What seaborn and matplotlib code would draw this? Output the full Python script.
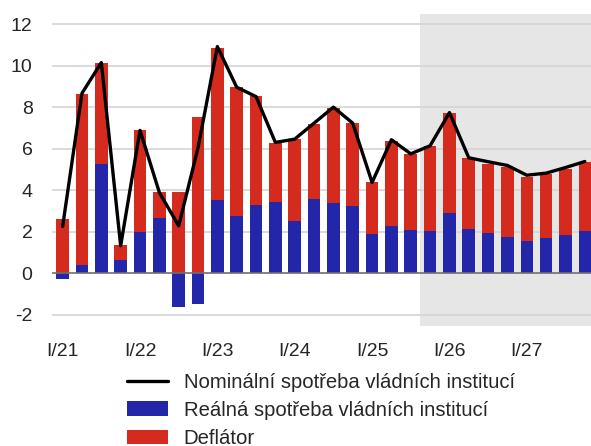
import numpy as np
import pandas as pd
import matplotlib
matplotlib.use("Agg")
import matplotlib.pyplot as plt
import seaborn as sns
from matplotlib.lines import Line2D
from matplotlib.patches import Patch

# Quarters 2021 Q1 .. 2027 Q4
quarters = [f"{q}/{y}" for y in range(21, 28) for q in ["I", "II", "III", "IV"]]

# Real government consumption (blue)
real = [-0.30, 0.37, 5.24, 0.64, 1.98, 2.68, -1.61, -1.51,
        3.53, 2.76, 3.28, 3.42, 2.49, 3.58, 3.36, 3.24,
        1.90, 2.28, 2.09, 2.02, 2.92, 2.12, 1.94, 1.75,
        1.57, 1.67, 1.82, 2.01]

# Deflator (red)
deflator = [2.60, 8.27, 4.91, 0.73, 4.90, 1.21, 3.89, 7.55,
            7.31, 6.20, 5.27, 2.85, 3.97, 3.62, 4.59, 3.99,
            2.50, 4.10, 3.66, 4.12, 4.82, 3.41, 3.33, 3.39,
            3.06, 3.12, 3.21, 3.34]

# Nominal government consumption (black line)
nominal = [2.25, 8.67, 10.15, 1.32, 6.88, 3.89, 2.28, 6.04,
           10.92, 8.96, 8.51, 6.30, 6.46, 7.23, 8.00, 7.23,
           4.37, 6.43, 5.75, 6.14, 7.74, 5.56, 5.37, 5.19,
           4.72, 4.82, 5.09, 5.38]

forecast_start = "IV/25"

df = pd.DataFrame({"quarter": quarters, "real": real,
                   "deflator": deflator, "nominal": nominal})
df["pos"] = np.arange(len(df))
df["red_bottom"] = df["real"].clip(lower=0)

sns.set_theme(style="white")
plt.rcParams["font.family"] = ["Liberation Sans", "DejaVu Sans"]

blue = "#2326A8"
red = "#D52B1F"

fig = plt.figure(figsize=(5.91, 4.46), dpi=100)
ax = fig.add_axes([0.088, 0.269, 0.912, 0.70])

# Forecast shading
fc = df.index[df["quarter"] == forecast_start][0]
ax.axvspan(fc - 0.5, len(df) + 1, color="#E6E6E6", zorder=0, lw=0)

# Grid
for yv in range(-2, 13, 2):
    if yv != 0:
        ax.axhline(yv, color="#D4D4D4", lw=1.2, zorder=0.5)

# Stacked bars
ax.bar(df["pos"], df["real"], width=0.65, color=blue, lw=0,
       edgecolor="none", zorder=2)
ax.bar(df["pos"], df["deflator"], bottom=df["red_bottom"], width=0.65,
       color=red, lw=0, edgecolor="none", zorder=2)
ax.axhline(0, color="#6E6E6E", lw=1.2, zorder=2.5)

# Nominal line
sns.lineplot(data=df, x="pos", y="nominal", color="black", lw=2.4,
             ax=ax, zorder=3)

ax.set_xlim(-0.55, len(df) - 0.68)
ax.set_ylim(-2.55, 12.5)
ax.set_yticks(range(-2, 13, 2))
ax.set_yticklabels([str(v) for v in range(-2, 13, 2)], fontsize=14)
year_pos = df["pos"][df["quarter"].str.startswith("I/")]
ax.set_xticks(year_pos)
ax.set_xticklabels(df["quarter"][year_pos.index], fontsize=14)
ax.tick_params(axis="x", length=4, color="#888888", pad=8, direction="out")
ax.tick_params(axis="y", length=0, pad=14)
ax.set_xlabel("")
ax.set_ylabel("")
for s in ax.spines.values():
    s.set_visible(False)

handles = [Line2D([0], [0], color="black", lw=2.4),
           Patch(facecolor=blue, edgecolor="none"),
           Patch(facecolor=red, edgecolor="none")]
labels = ["Nominální spotřeba vládních institucí",
          "Reálná spotřeba vládních institucí",
          "Deflátor"]
fig.legend(handles, labels, loc="upper left", bbox_to_anchor=(0.215, 0.164),
           frameon=False, fontsize=14.6, handlelength=2.0, handleheight=0.75,
           handletextpad=0.8, labelspacing=0.45, borderaxespad=0, borderpad=0)

fig.savefig("out.png", dpi=100)
